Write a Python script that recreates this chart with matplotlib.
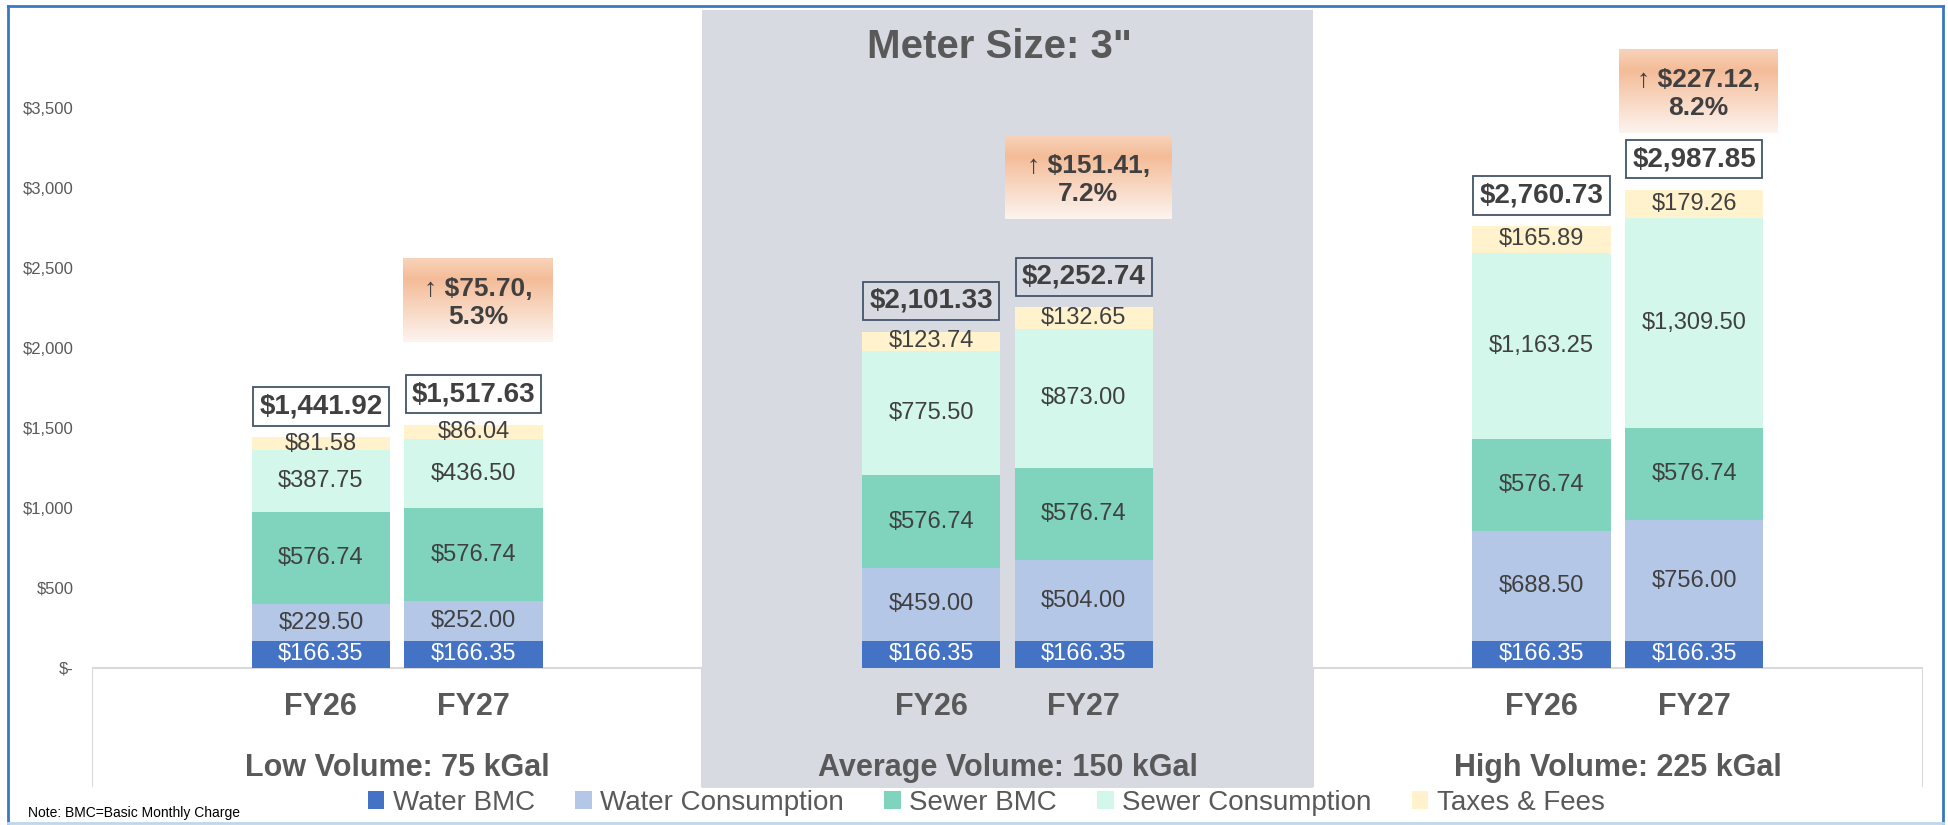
import matplotlib
matplotlib.use("Agg")
import matplotlib.pyplot as plt
from matplotlib.patches import Rectangle, Patch
from matplotlib.lines import Line2D
from matplotlib.colors import LinearSegmentedColormap
import numpy as np

plt.rcParams["font.family"] = ["Liberation Sans", "DejaVu Sans"]

# chart data
groups = ["Low Volume: 75 kGal", "Average Volume: 150 kGal", "High Volume: 225 kGal"]
years = ["FY26", "FY27"]
series = ["Water BMC", "Water Consumption", "Sewer BMC", "Sewer Consumption", "Taxes & Fees"]

water_bmc = [166.35, 166.35, 166.35, 166.35, 166.35, 166.35]
water_cons = [229.50, 252.00, 459.00, 504.00, 688.50, 756.00]
sewer_bmc = [576.74, 576.74, 576.74, 576.74, 576.74, 576.74]
sewer_cons = [387.75, 436.50, 775.50, 873.00, 1163.25, 1309.50]
taxes = [81.58, 86.04, 123.74, 132.65, 165.89, 179.26]

inc_amount = [75.70, 151.41, 227.12]
inc_pct = [5.3, 7.2, 8.2]

y_ticks = [0, 500, 1000, 1500, 2000, 2500, 3000, 3500]

colors = ["#4472c4", "#b4c7e7", "#80d4bd", "#d3f7ea", "#fff2cc"]
label_colors = ["white", "#404040", "#404040", "#404040", "#404040"]

# layout of the callout boxes (data units)
callout_y = [2298, 3070, 3604]
callout_w = [0.98, 1.09, 1.04]
callout_h = 525

ymin, ymax = -752, 4111


def money(v):
    if v == 0:
        return "$-"
    return f"${v:,.0f}"


fig = plt.figure(figsize=(19.49, 8.25), dpi=100)
ax = fig.add_axes([92 / 1949, 37 / 825, (1923 - 92) / 1949, (815 - 37) / 825])

# bar positions: 4 slots per group, bars in the middle two
xs = []
for g in range(len(groups)):
    xs += [4 * g + 1, 4 * g + 2]
xs = np.array(xs)

# category box lines
ax.plot([-0.5, 11.5], [0, 0], color="#d9d9d9", lw=1.5, zorder=0.5)
for xv in [-0.5, 3.5, 7.5, 11.5]:
    ax.plot([xv, xv], [0, ymin + 10], color="#d9d9d9", lw=1.5, zorder=0.5)

# grey highlight for the middle group
ax.add_patch(Rectangle((3.5, ymin), 4, ymax - ymin, facecolor="#d7dae0",
                       edgecolor="none", zorder=1))

values = [water_bmc, water_cons, sewer_bmc, sewer_cons, taxes]
bottom = np.zeros(len(xs))
for vals, col, lc in zip(values, colors, label_colors):
    vals = np.array(vals)
    ax.bar(xs, vals, bottom=bottom, width=0.905, color=col, edgecolor="none", zorder=2)
    for x, b, v in zip(xs, bottom, vals):
        ax.text(x, b + v / 2, f"${v:,.2f}", ha="center", va="center",
                fontsize=17, color=lc, zorder=4)
    bottom = bottom + vals

# totals
for x, t in zip(xs, bottom):
    ax.annotate(f"${t:,.2f}", xy=(x, t), xytext=(0, 22), textcoords="offset points",
                ha="center", va="center", fontsize=20, fontweight="bold", color="#404040",
                zorder=5,
                bbox=dict(boxstyle="square,pad=0.22", fc="none", ec="#44546a", lw=1.3))

# increase callouts with orange gradient
grad_cmap = LinearSegmentedColormap.from_list(
    "peach", [(0, "#f8d3ba"), (0.25, "#f4bc98"), (1, "#fdf4ef")])
grad = np.linspace(0, 1, 200).reshape(-1, 1)
for g in range(len(groups)):
    cx = xs[2 * g + 1] + 0.03
    cy = callout_y[g]
    w = callout_w[g]
    ax.imshow(grad, cmap=grad_cmap, extent=[cx - w / 2, cx + w / 2, cy - callout_h / 2, cy + callout_h / 2],
              aspect="auto", zorder=3)
    ax.text(cx, cy - 20, f"\u2191 ${inc_amount[g]:.2f},\n{inc_pct[g]:.1f}%", ha="center", va="center",
            fontsize=19, fontweight="bold", color="#404040", linespacing=1.2, zorder=4)

# category labels
for x, i in zip(xs, range(len(xs))):
    ax.text(x, -246, years[i % 2], ha="center", va="center", fontsize=22,
            fontweight="bold", color="#595959", zorder=4)
for g, name in enumerate(groups):
    ax.text(4 * g + 1.5, -627, name, ha="center", va="center", fontsize=22,
            fontweight="bold", color="#595959", zorder=4)

ax.text(5.45, 3879, 'Meter Size: 3"', ha="center", va="center", fontsize=29,
        fontweight="bold", color="#595959", zorder=4)

ax.set_xlim(-0.5, 11.5)
ax.set_ylim(ymin, ymax)
ax.set_yticks(y_ticks)
ax.set_yticklabels([money(v) for v in y_ticks])
ax.set_xticks([])
ax.tick_params(axis="y", length=0, pad=13, labelsize=12, labelcolor="#595959")
for s in ax.spines.values():
    s.set_visible(False)
ax.patch.set_alpha(0)

# legend
handles = [Patch(facecolor=c, edgecolor="none") for c in colors]
fig.legend(handles, series, loc="center", bbox_to_anchor=(986 / 1949, 1 - 803 / 825), ncol=5,
           frameon=False, fontsize=20, handlelength=0.6, handleheight=0.6,
           handletextpad=0.3, columnspacing=1.45, labelcolor="#595959", borderpad=0)

fig.text(28 / 1949, 1 - 813 / 825, "Note: BMC=Basic Monthly Charge", fontsize=10,
         color="black", va="center", ha="left")

# outer border
top, bot = 1 - 5.7 / 825, 1 - 823 / 825
left, right = 8 / 1949, 1943 / 1949
fig.add_artist(Line2D([left, right], [top, top], color="#3a78c0", lw=2, transform=fig.transFigure))
fig.add_artist(Line2D([left, left], [bot, top], color="#3a78c0", lw=2, transform=fig.transFigure))
fig.add_artist(Line2D([right, right], [bot, top], color="#3a78c0", lw=2, transform=fig.transFigure))
fig.add_artist(Line2D([left, right], [bot, bot], color="#bdd7ee", lw=2, transform=fig.transFigure))

fig.savefig("out.png", dpi=100, facecolor="white")
